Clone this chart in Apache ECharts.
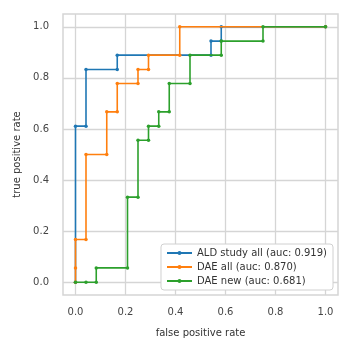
<!DOCTYPE html>
<html><head><meta charset="utf-8">
<script src="https://cdn.jsdelivr.net/npm/echarts@6/dist/echarts.min.js"></script>
<style>html,body{margin:0;padding:0;background:#fff}#c{width:352px;height:352px}</style>
</head><body><div id="c"></div>
<script>
const seriesNames = ['ALD study all (auc: 0.919)', 'DAE all (auc: 0.870)', 'DAE new (auc: 0.681)'];
const aldFpr = [0, 0, 0.042, 0.042, 0.167, 0.167, 0.542, 0.542, 0.583, 0.583, 1];
const aldTpr = [0, 0.611, 0.611, 0.833, 0.833, 0.889, 0.889, 0.944, 0.944, 1, 1];
const daeAllFpr = [0, 0, 0, 0.042, 0.042, 0.125, 0.125, 0.167, 0.167, 0.25, 0.25, 0.292, 0.292, 0.417, 0.417, 1];
const daeAllTpr = [0, 0.056, 0.167, 0.167, 0.5, 0.5, 0.667, 0.667, 0.778, 0.778, 0.833, 0.833, 0.889, 0.889, 1, 1];
const daeNewFpr = [0, 0.042, 0.083, 0.083, 0.208, 0.208, 0.25, 0.25, 0.292, 0.292, 0.333, 0.333, 0.375, 0.375, 0.458, 0.458, 0.583, 0.583, 0.75, 0.75, 1];
const daeNewTpr = [0, 0, 0, 0.056, 0.056, 0.333, 0.333, 0.556, 0.556, 0.611, 0.611, 0.667, 0.667, 0.778, 0.778, 0.889, 0.889, 0.944, 0.944, 1, 1];
const xTicks = [0, 0.2, 0.4, 0.6, 0.8, 1.0];
const yTicks = [0, 0.2, 0.4, 0.6, 0.8, 1.0];
const colors = ['#1f77b4', '#ff7f0e', '#2ca02c'];

const pairs = (xs, ys) => xs.map((x, i) => [x, ys[i]]);
const allData = [pairs(aldFpr, aldTpr), pairs(daeAllFpr, daeAllTpr), pairs(daeNewFpr, daeNewTpr)];
const font = 'DejaVu Sans';
const gridColor = '#d5d5d5';
const fs = 10;

const chart = echarts.init(document.getElementById('c'), null, {renderer: 'canvas'});
chart.setOption({
  animation: false,
  color: colors,
  textStyle: {fontFamily: font},
  grid: {left: 63, right: 14, top: 14, bottom: 57, show: true, borderColor: gridColor, borderWidth: 1.5},
  xAxis: {
    type: 'value', min: -0.05, max: 1.05,
    name: 'false positive rate', nameLocation: 'middle', nameGap: 33,
    nameTextStyle: {fontSize: fs, color: '#333', fontFamily: font},
    axisLine: {show: false},
    axisTick: {show: false, customValues: xTicks},
    axisLabel: {customValues: xTicks, fontSize: fs, color: '#444', margin: 12, fontFamily: font,
      formatter: v => v.toFixed(1)},
    splitLine: {show: true, lineStyle: {color: gridColor, width: 1.3}}
  },
  yAxis: {
    type: 'value', min: -0.05, max: 1.05,
    name: 'true positive rate', nameLocation: 'middle', nameGap: 40,
    nameTextStyle: {fontSize: fs, color: '#333', fontFamily: font},
    axisLine: {show: false},
    axisTick: {show: false, customValues: yTicks},
    axisLabel: {customValues: yTicks, fontSize: fs, color: '#444', margin: 14, fontFamily: font,
      formatter: v => v.toFixed(1)},
    splitLine: {show: true, lineStyle: {color: gridColor, width: 1.3}}
  },
  legend: {
    orient: 'vertical', right: 19, bottom: 62,
    backgroundColor: '#fff', borderColor: '#d0d0d0', borderWidth: 1, borderRadius: 3,
    padding: [4, 6, 4, 5], itemGap: 4, itemWidth: 25, itemHeight: 5,
    textStyle: {fontSize: fs, color: '#333', fontFamily: font},
    data: seriesNames
  },
  series: seriesNames.map((n, i) => ({
    name: n, type: 'line', data: allData[i],
    symbol: 'circle', symbolSize: 3.5, showSymbol: true,
    lineStyle: {width: 1.6, color: colors[i]},
    itemStyle: {color: colors[i]},
    z: 3 + i
  }))
});
</script></body></html>
